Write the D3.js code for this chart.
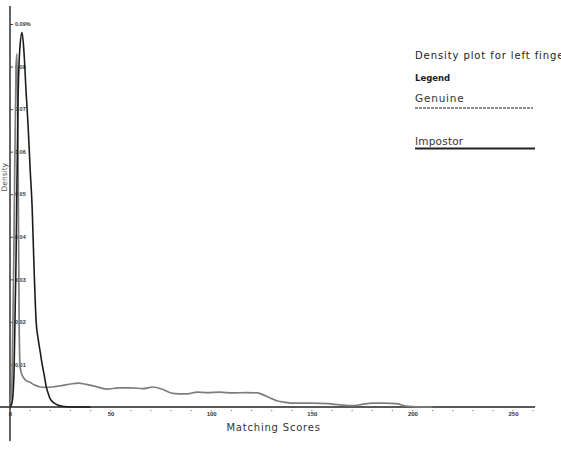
<!DOCTYPE html>
<html>
<head>
<meta charset="utf-8">
<title>density plot - left finger</title>
<script src="https://d3js.org/d3.v7.min.js"></script>
<style>
  body { margin: 0; background: #fff; }
  svg { font-family: "DejaVu Sans", Lato, sans-serif; }
  .tick text { fill: #333; }
</style>
</head>
<body>
<script>
// matching score density
var genuineScores  = [0, 1, 2, 3, 3.5, 4, 4.5, 5, 6, 8, 10, 12, 15, 18, 21, 25, 30, 34, 38, 42, 48, 54, 60, 66, 71, 76, 80, 84, 88, 93, 98, 104, 111, 117, 123, 128, 133, 137, 141, 150, 158, 164, 170, 175, 180, 186, 192, 196, 200, 210];
var genuineDensity = [0, 0.006, 0.040, 0.080, 0.083, 0.060, 0.022, 0.0095, 0.0075, 0.0062, 0.0058, 0.0052, 0.0047, 0.0046, 0.0047, 0.0050, 0.0054, 0.0056, 0.0053, 0.0049, 0.0042, 0.0045, 0.0045, 0.0043, 0.0047, 0.0041, 0.0033, 0.0031, 0.0031, 0.0035, 0.0034, 0.0035, 0.0033, 0.0034, 0.0033, 0.0024, 0.0014, 0.0011, 0.0009, 0.0009, 0.0008, 0.0005, 0.0003, 0.0006, 0.0009, 0.0009, 0.0008, 0.0003, 0.0001, 0];

var impostorScores  = [0, 1, 2, 3, 4, 5, 6, 7, 8, 9, 10, 11, 12, 13, 14, 15, 16, 17, 18, 19, 20, 22, 24, 27, 30, 40];
var impostorDensity = [0, 0.001, 0.008, 0.035, 0.072, 0.085, 0.088, 0.083, 0.074, 0.066, 0.056, 0.047, 0.032, 0.020, 0.016, 0.013, 0.010, 0.0075, 0.0048, 0.0032, 0.0019, 0.0009, 0.0004, 0.0001, 0, 0];

var xTicks = [0, 50, 100, 150, 200, 250];
var yTicks = [0.01, 0.02, 0.03, 0.04, 0.05, 0.06, 0.07, 0.08, 0.09];
var yTickLabels = ["0.01", "0.02", "0.03", "0.04", "0.05", "0.06", "0.07", "0.08", "0.09%"];

var w = 561, h = 460;

var svg = d3.select("body").append("svg")
  .attr("width", w)
  .attr("height", h);

var x = d3.scaleLinear().domain([0, 250]).range([10, 513]);
var y = d3.scaleLinear().domain([0, 0.09]).range([407, 24]);

// y axis title, squeezed against the left edge like the scan
svg.append("text")
  .attr("transform", "translate(7," + y(0.054) + ") rotate(-90)")
  .attr("text-anchor", "middle")
  .attr("font-size", 7.5)
  .attr("fill", "#555")
  .text("Density");

// axis lines
svg.append("line")
  .attr("x1", x(0)).attr("x2", x(0))
  .attr("y1", 6).attr("y2", 441)
  .attr("stroke", "#222").attr("stroke-width", 1.4);
svg.append("line")
  .attr("x1", 0).attr("x2", x(261))
  .attr("y1", y(0)).attr("y2", y(0))
  .attr("stroke", "#222").attr("stroke-width", 1.3);

// minor tick dots under the x axis
svg.append("g").selectAll("rect")
  .data(d3.range(0, 262, 10))
  .join("rect")
  .attr("x", d => x(d) - 0.5)
  .attr("y", y(0) + 3)
  .attr("width", 1.2).attr("height", 1.2)
  .attr("fill", "#888");

var xAxis = svg.append("g")
  .attr("transform", "translate(0," + y(0) + ")")
  .call(d3.axisBottom(x).tickValues(xTicks).tickSize(0).tickPadding(5))
  .attr("font-size", 6)
  .attr("font-weight", "bold");
xAxis.select(".domain").remove();

var yAxis = svg.append("g")
  .attr("transform", "translate(" + x(0) + ",0)")
  .call(d3.axisRight(y).tickValues(yTicks).tickSize(3).tickPadding(2)
    .tickFormat((d, i) => yTickLabels[i]))
  .attr("font-size", 5.5)
  .attr("font-weight", "bold");
yAxis.select(".domain").remove();
yAxis.selectAll(".tick line").attr("stroke", "#444");

svg.append("text")
  .attr("x", x(131))
  .attr("y", 431)
  .attr("text-anchor", "middle")
  .attr("font-size", 10)
  .attr("letter-spacing", 0.8)
  .attr("fill", "#333")
  .text("Matching Scores");

var line = d3.line()
  .x(d => x(d[0]))
  .y(d => y(d[1]))
  .curve(d3.curveMonotoneX);

svg.append("path")
  .datum(d3.zip(genuineScores, genuineDensity))
  .attr("fill", "none")
  .attr("stroke", "#7d7d7d")
  .attr("stroke-width", 1.7)
  .attr("d", line);

svg.append("path")
  .datum(d3.zip(impostorScores, impostorDensity))
  .attr("fill", "none")
  .attr("stroke", "#1c1c1c")
  .attr("stroke-width", 1.6)
  .attr("d", line);

// legend block on the right, title runs off the page as in the scan
var lg = svg.append("g").attr("transform", "translate(415,0)");
lg.append("text").attr("x", 0).attr("y", 59)
  .attr("font-size", 10).attr("letter-spacing", 0.9).attr("fill", "#222")
  .text("Density plot for left finger");
lg.append("text").attr("x", 0).attr("y", 81)
  .attr("font-size", 8.5).attr("font-weight", "bold").attr("fill", "#222")
  .text("Legend");
lg.append("text").attr("x", 0).attr("y", 102)
  .attr("font-size", 10.5).attr("letter-spacing", 0.8).attr("fill", "#333")
  .text("Genuine");
lg.append("line").attr("x1", 0).attr("x2", 118)
  .attr("y1", 108).attr("y2", 108)
  .attr("stroke", "#8a8a8a").attr("stroke-width", 2)
  .attr("stroke-dasharray", "3,1");
lg.append("text").attr("x", 0).attr("y", 145)
  .attr("font-size", 10.5).attr("letter-spacing", 0.2).attr("fill", "#333")
  .text("Impostor");
lg.append("line").attr("x1", 0).attr("x2", 120)
  .attr("y1", 148.5).attr("y2", 148.5)
  .attr("stroke", "#222").attr("stroke-width", 1.8);
</script>
</body>
</html>
